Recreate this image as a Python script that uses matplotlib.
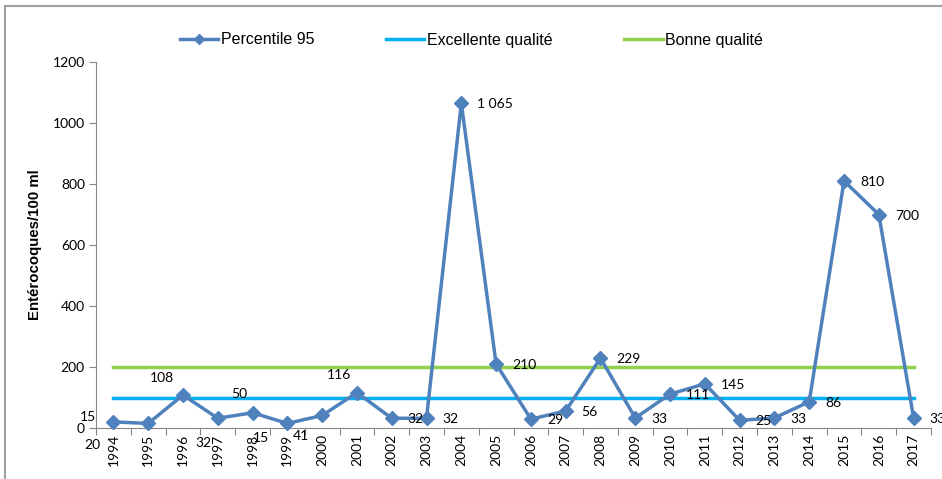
import matplotlib
matplotlib.use("Agg")
import matplotlib.pyplot as plt
from matplotlib.patches import Rectangle

# data
years = ["1994", "1995", "1996", "1997", "1998", "1999", "2000", "2001", "2002", "2003", "2004", "2005",
         "2006", "2007", "2008", "2009", "2010", "2011", "2012", "2013", "2014", "2015", "2016", "2017"]
percentile_95 = [20, 15, 108, 32, 50, 15, 41, 116, 32, 32, 1065, 210,
                 29, 56, 229, 33, 111, 145, 25, 33, 86, 810, 700, 33]
point_labels = ["20", "15", "108", "32", "50", "15", "41", "116", "32", "32", "1 065", "210",
                "29", "56", "229", "33", "111", "145", "25", "33", "86", "810", "700", "33"]
excellente = 100
bonne = 200

# label offsets in pixels (dx, dy-up, horizontal alignment) as placed in the original
label_pos = {
    0: (-21, -23, "center"),
    1: (-60, 6, "center"),
    2: (-21, 17, "center"),
    3: (-14, -25, "center"),
    4: (-13, 19, "center"),
    5: (-26, -15, "center"),
    6: (-21, -21, "center"),
    7: (-18, 18, "center"),
}

blue = "#4F81BD"
cyan = "#00B0F0"
green = "#92D050"
grey = "#868686"

fig = plt.figure(figsize=(9.42, 4.79), dpi=100)
fig.patches.append(Rectangle((5 / 942, -0.1), 1.2, 1.1 - 6 / 479, transform=fig.transFigure,
                             fill=False, edgecolor="#A0A0A0", linewidth=1.5))

ax = fig.add_axes([96 / 942, 51 / 479, 835 / 942, 366 / 479])
x = list(range(len(years)))

ax.plot(x, percentile_95, color=blue, linewidth=2.5, marker="D", markersize=7.5,
        label="Percentile 95", zorder=4, clip_on=False)
ax.plot([x[0], x[-1]], [excellente, excellente], color=cyan, linewidth=2.5,
        label="Excellente qualité", zorder=3)
ax.plot([x[0], x[-1]], [bonne, bonne], color=green, linewidth=2.5,
        label="Bonne qualité", zorder=3)

for i, (v, txt) in enumerate(zip(percentile_95, point_labels)):
    dx, dy, ha = label_pos.get(i, (16, -1, "left"))
    ax.annotate(txt, (i, v), xytext=(dx, dy), textcoords="offset pixels",
                ha=ha, va="center", fontsize=10, family="Lato", color="black",
                annotation_clip=False, zorder=5)

ax.set_xlim(-0.5, len(years) - 0.5)
ax.set_ylim(0, 1200)
ax.set_yticks(range(0, 1201, 200))
ax.set_xticks(x)
ax.set_xticklabels(years, rotation=90, family="Lato", fontsize=10)
ax.set_xticks([i - 0.5 for i in range(len(years) + 1)], minor=True)
ax.tick_params(axis="x", which="major", length=0, pad=4)
ax.tick_params(axis="x", which="minor", length=5, color=grey, width=0.8)
ax.tick_params(axis="y", length=5, color=grey, width=0.8, pad=3)
for lab in ax.get_yticklabels():
    lab.set_family("Lato")
    lab.set_fontsize(10)

for side in ["top", "right"]:
    ax.spines[side].set_visible(False)
for side in ["left", "bottom"]:
    ax.spines[side].set_color(grey)
    ax.spines[side].set_linewidth(0.8)

ax.set_ylabel("Entérocoques/100 ml", family="Liberation Sans", fontweight="bold",
              fontsize=10.8, labelpad=8)

ax.legend(loc="center left", bbox_to_anchor=(84 / 835, 1 + 22 / 366), ncol=3, frameon=False,
          prop={"family": "Liberation Sans", "size": 11.5}, handlelength=2.4,
          handletextpad=0.15, columnspacing=4.5, borderaxespad=0, borderpad=0,
          markerscale=0.7)

fig.savefig("out.png", dpi=100)
